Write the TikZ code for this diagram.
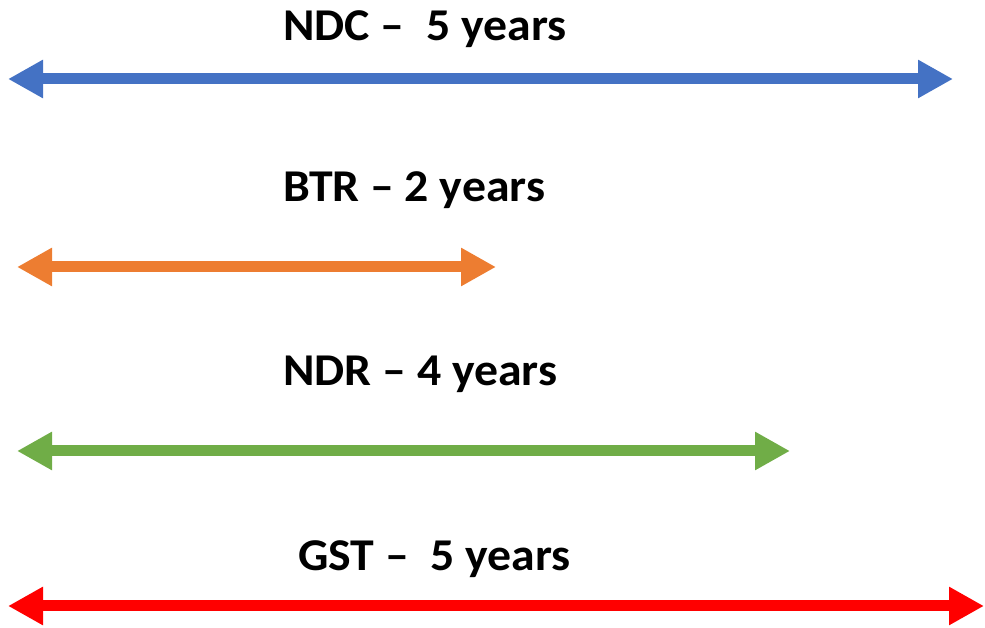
\documentclass[tikz,border=0pt]{standalone}
\usepackage{fontspec}
\setmainfont{Carlito}[FakeStretch=1.05]
\usetikzlibrary{arrows.meta}
\definecolor{cblue}{HTML}{4472C4}
\definecolor{corange}{HTML}{ED7D31}
\definecolor{cgreen}{HTML}{70AD47}
\definecolor{cred}{HTML}{FF0000}
\tikzset{
  span/.style={line width=11pt, {Triangle[length=35pt,width=36pt]}-{Triangle[length=35pt,width=36pt]}},
  lbl/.style={anchor=base west, inner sep=0pt, font=\fontsize{45.5}{54}\selectfont\bfseries}
}
\begin{document}
\begin{tikzpicture}[x=1pt,y=1pt]
\useasboundingbox (0,0) rectangle (985,628);
\node[lbl] (ndc) at (283,587) {NDC~–~~5 years};
\node[lbl] (btr) at (283,426) {BTR – 2 years};
\node[lbl] (ndr) at (283,242) {NDR – 4 years};
\node[lbl] (gst) at (298,57) {GST~–~~5 years};
\coordinate (b1) at (8,549); \coordinate (b2) at (953,549);
\coordinate (o1) at (17,361); \coordinate (o2) at (496,361);
\coordinate (g1) at (17,177); \coordinate (g2) at (790,177);
\coordinate (r1) at (8,22); \coordinate (r2) at (984,22);
\draw[span, cblue] (b1) -- (b2);
\draw[span, corange] (o1) -- (o2);
\draw[span, cgreen] (g1) -- (g2);
\draw[span, cred] (r1) -- (r2);
\end{tikzpicture}
\end{document}
